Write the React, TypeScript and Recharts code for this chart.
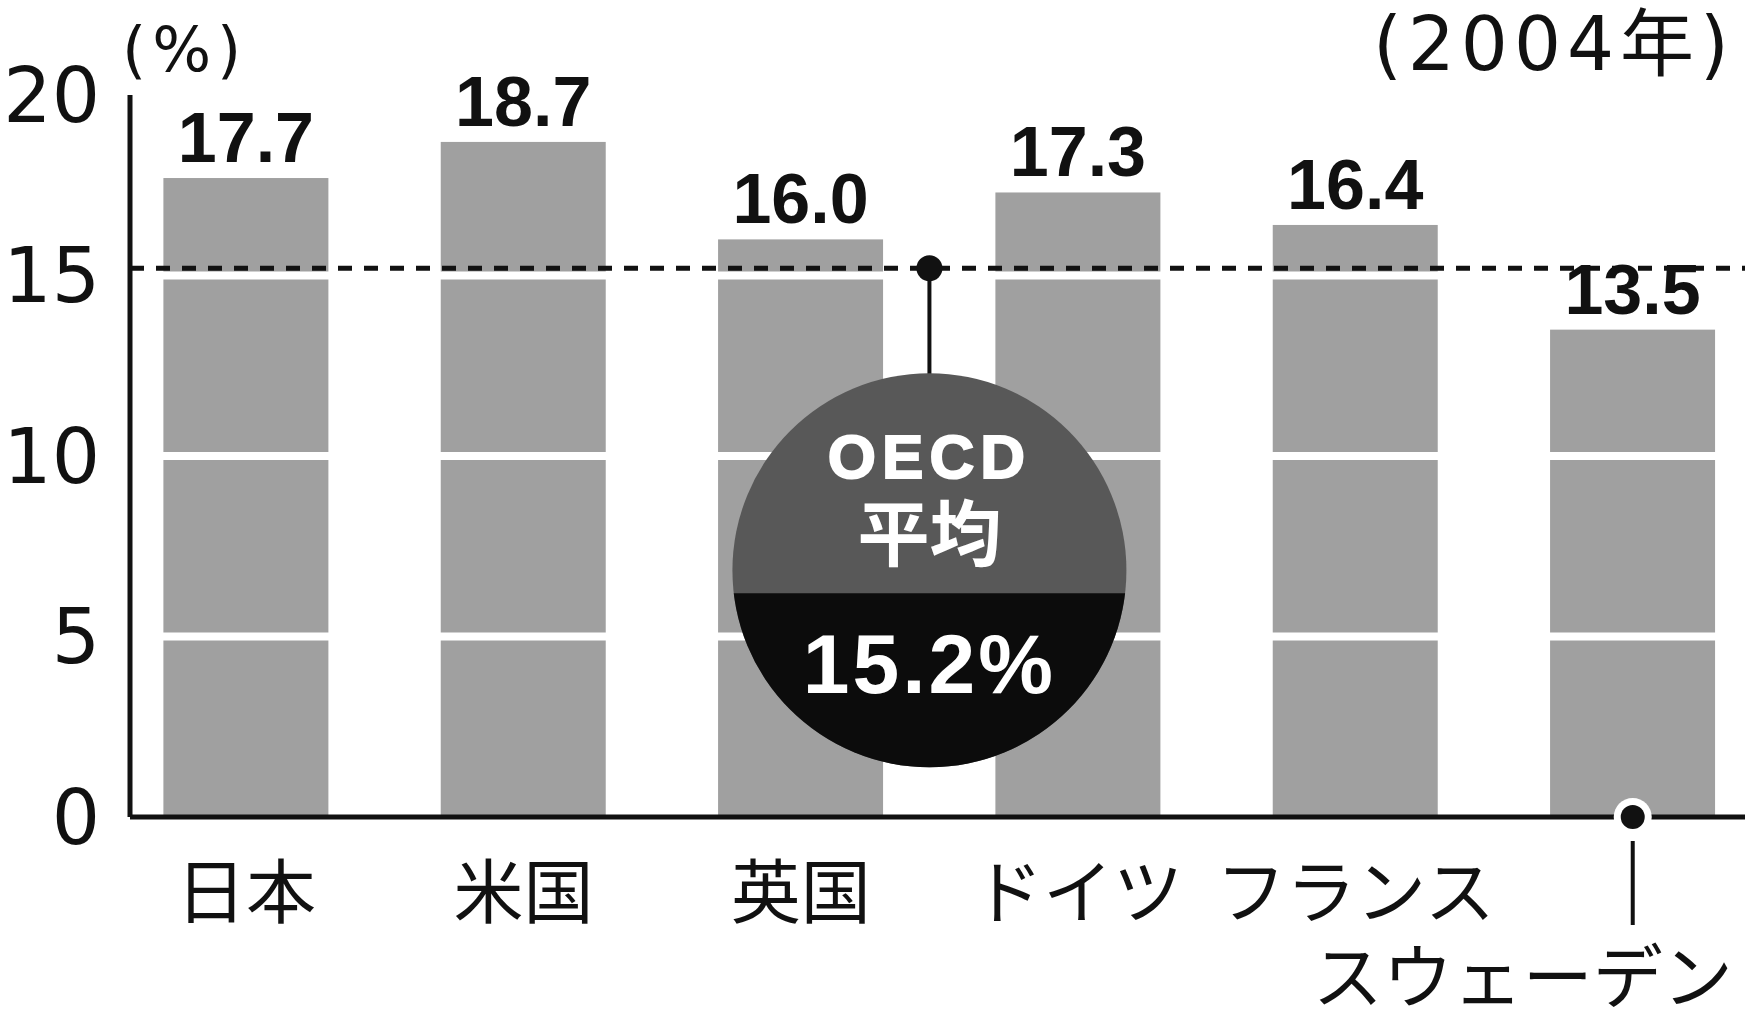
import React from "react";
import { BarChart, Bar, XAxis, YAxis, ReferenceLine, LabelList } from "recharts";

// Share values by country, 2004 (%)
const countries = ["日本", "米国", "英国", "ドイツ", "フランス", "スウェーデン"];
const shares = [17.7, 18.7, 16.0, 17.3, 16.4, 13.5];
const yTicks = [0, 5, 10, 15, 20];
const gapLevels = [5, 10, 15];
const oecdAverage = 15.2;
const oecdTitle = "OECD";
const oecdSub = "平均";
const unitLabel = "(%)";
const yearLabel = "(2004年)";

const data = countries.map((name, i) => ({ name, value: shares[i] }));

const INK = "#111";
const BAR_GRAY = "#a0a0a0";
const JP = "'Noto Sans CJK JP', 'Noto Sans', sans-serif";
const NUM = "'DejaVu Sans', 'Noto Sans CJK JP', sans-serif";
const BOLD = "'Liberation Sans', Arial, sans-serif";

// bar with white breaks at 5 / 10 / 15
const GappedBar = (props: any) => {
  const { x, y, width, height, payload } = props;
  const v = payload.value;
  const perUnit = height / v;
  return (
    <g>
      <rect x={x} y={y} width={width} height={height} fill={BAR_GRAY} />
      {gapLevels
        .filter((k) => k < v)
        .map((k) => (
          <rect key={k} x={x - 1} y={y + height - k * perUnit - 4} width={width + 2} height={8} fill="#fff" />
        ))}
    </g>
  );
};

const CountryTick = (props: any) => {
  const { x, y, payload, index } = props;
  if (index === countries.length - 1) {
    // Sweden: dot on the axis, leader line, label lower right
    return (
      <g>
        <circle cx={x} cy={y} r={19} fill="#fff" />
        <circle cx={x} cy={y} r={12} fill={INK} />
        <line x1={x} y1={y + 24} x2={x} y2={y + 108} stroke={INK} strokeWidth={4} />
        <text x={x + 100} y={y + 186} textAnchor="end" fontFamily={JP} fontSize={70} fill={INK}>
          {payload.value}
        </text>
      </g>
    );
  }
  return (
    <text x={x} y={y + 101} textAnchor="middle" fontFamily={JP} fontSize={70} fill={INK}>
      {payload.value}
    </text>
  );
};

const OecdBadge = (props: any) => {
  const vb = props.viewBox || {};
  const lineY = vb.y;
  const cx = vb.x + vb.width * 0.495;
  const cy = lineY + 302;
  const r = 197;
  const splitY = cy + 23;
  return (
    <g>
      <defs>
        <clipPath id="badgeLower">
          <rect x={cx - r - 2} y={splitY} width={2 * r + 4} height={r + 4} />
        </clipPath>
      </defs>
      <line x1={cx} y1={lineY} x2={cx} y2={cy - r + 2} stroke={INK} strokeWidth={4} />
      <circle cx={cx} cy={lineY} r={13} fill={INK} />
      <circle cx={cx} cy={cy} r={r} fill="#585858" />
      <circle cx={cx} cy={cy} r={r} fill="#0c0c0c" clipPath="url(#badgeLower)" />
      <text x={cx} y={cy - 92} textAnchor="middle" fontFamily={BOLD} fontWeight={700} fontSize={62}
        letterSpacing={6} fill="#fff" stroke="#fff" strokeWidth={2}>
        {oecdTitle}
      </text>
      <text x={cx} y={cy - 10} textAnchor="middle" fontFamily={JP} fontWeight={700} fontSize={72} fill="#fff">
        {oecdSub}
      </text>
      <text x={cx} y={cy + 123} textAnchor="middle" fontFamily={BOLD} fontWeight={700} fontSize={84}
        letterSpacing={3} fill="#fff">
        {oecdAverage.toFixed(1)}%
      </text>
    </g>
  );
};

export default function App() {
  return (
    <div style={{ position: "absolute", left: 0, top: 0, width: 1745, height: 1019, background: "#fff" }}>
      <BarChart width={1745} height={1019} data={data} margin={{ top: 95, right: 0, bottom: 0, left: 0 }}>
        <XAxis
          dataKey="name"
          interval={0}
          height={202}
          tickLine={false}
          tickSize={0}
          tickMargin={0}
          axisLine={{ stroke: INK, strokeWidth: 5 }}
          padding={{ left: -22.6, right: -26.4 }}
          tick={<CountryTick />}
        />
        <YAxis
          type="number"
          domain={[0, 20]}
          ticks={yTicks}
          width={130}
          tickLine={false}
          tickSize={0}
          tickMargin={30}
          axisLine={{ stroke: INK, strokeWidth: 5 }}
          tick={{ fontFamily: NUM, fontSize: 76, fill: INK }}
        />
        <Bar dataKey="value" barSize={165} shape={<GappedBar />} isAnimationActive={false}>
          <LabelList
            dataKey="value"
            position="top"
            offset={16}
            formatter={(v: any) => Number(v).toFixed(1)}
            style={{ fontFamily: BOLD, fontWeight: 700, fontSize: 70, fill: INK }}
          />
        </Bar>
        <ReferenceLine
          y={oecdAverage}
          stroke={INK}
          strokeWidth={5}
          strokeDasharray="14 12"
          label={<OecdBadge />}
        />
      </BarChart>
      <div
        style={{
          position: "absolute", left: 122, top: 10, fontFamily: NUM, fontSize: 62, letterSpacing: 6,
          color: INK, lineHeight: "80px",
        }}
      >
        {unitLabel}
      </div>
      <div
        style={{
          position: "absolute", right: 10, top: 4, fontFamily: NUM, fontSize: 74, letterSpacing: 6,
          color: INK, lineHeight: "80px",
        }}
      >
        {yearLabel}
      </div>
    </div>
  );
}
